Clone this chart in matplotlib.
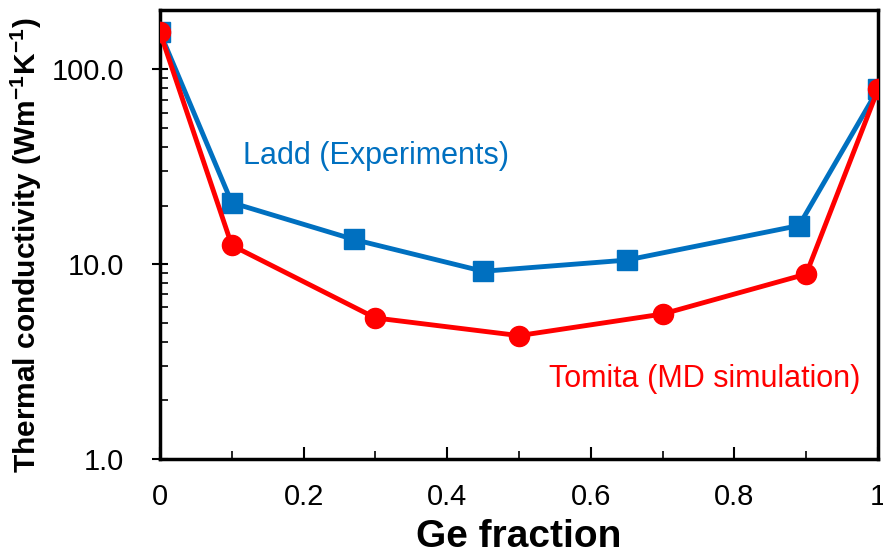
import matplotlib.pyplot as plt
from matplotlib.ticker import FixedLocator, FixedFormatter, LogLocator, NullFormatter, MultipleLocator

plt.rcParams['font.family'] = ['Liberation Sans', 'DejaVu Sans']
plt.rcParams['mathtext.fontset'] = 'custom'
plt.rcParams['mathtext.rm'] = 'Liberation Sans'
plt.rcParams['mathtext.bf'] = 'Liberation Sans:bold'

# Ge fraction vs thermal conductivity
ladd_x = [0, 0.1, 0.27, 0.45, 0.65, 0.89, 1.0]
ladd_k = [155, 20.7, 13.4, 9.2, 10.5, 15.8, 79]

tomita_x = [0, 0.1, 0.3, 0.5, 0.7, 0.9, 1.0]
tomita_k = [155, 12.5, 5.3, 4.3, 5.55, 8.9, 79]

xticks = [0, 0.2, 0.4, 0.6, 0.8, 1.0]
xticklabels = ['0', '0.2', '0.4', '0.6', '0.8', '1']
yticks = [1, 10, 100]
yticklabels = ['1.0', '10.0', '100.0']

blue = '#0070C0'
red = '#FF0000'

fig = plt.figure(figsize=(8.83, 5.52), dpi=100)
ax = fig.add_axes([160/883, 93/552, 718/883, 449/552])

ax.plot(ladd_x, ladd_k, color=blue, lw=3.5, marker='s', ms=15, zorder=3)
ax.plot(tomita_x, tomita_k, color=red, lw=3.5, marker='o', ms=14.5, zorder=4)

ax.set_yscale('log')
ax.set_xlim(0, 1)
ax.set_ylim(1, 202)

ax.xaxis.set_major_locator(FixedLocator(xticks))
ax.xaxis.set_major_formatter(FixedFormatter(xticklabels))
ax.xaxis.set_minor_locator(MultipleLocator(0.1))
ax.yaxis.set_major_locator(FixedLocator(yticks))
ax.yaxis.set_major_formatter(FixedFormatter(yticklabels))
ax.yaxis.set_minor_locator(LogLocator(base=10, subs=range(2, 10)))
ax.yaxis.set_minor_formatter(NullFormatter())

ax.tick_params(which='major', direction='in', length=9, width=1.5, labelsize=21)
ax.tick_params(which='minor', direction='in', length=6, width=1.2)
ax.tick_params(axis='x', which='major', pad=17)
ax.tick_params(axis='y', which='major', direction='inout', length=12, pad=20)
for s in ax.spines.values():
    s.set_linewidth(2.5)

ax.set_xlabel('Ge fraction', fontsize=28, fontweight='bold')
ax.xaxis.set_label_coords(0.5, -0.134)
ax.set_ylabel('Thermal conductivity (Wm$^{\\mathbf{-1}}$K$^{\\mathbf{-1}}$)', fontsize=21.5, fontweight='bold')
ax.yaxis.set_label_coords(-0.161, 0.477)

ax.text(0.1156, 32.7, 'Ladd (Experiments)', color=blue, fontsize=22, ha='left', va='baseline')
ax.text(0.975, 2.33, 'Tomita (MD simulation)', color=red, fontsize=22, ha='right', va='baseline')

fig.savefig('out.png', dpi=100)
